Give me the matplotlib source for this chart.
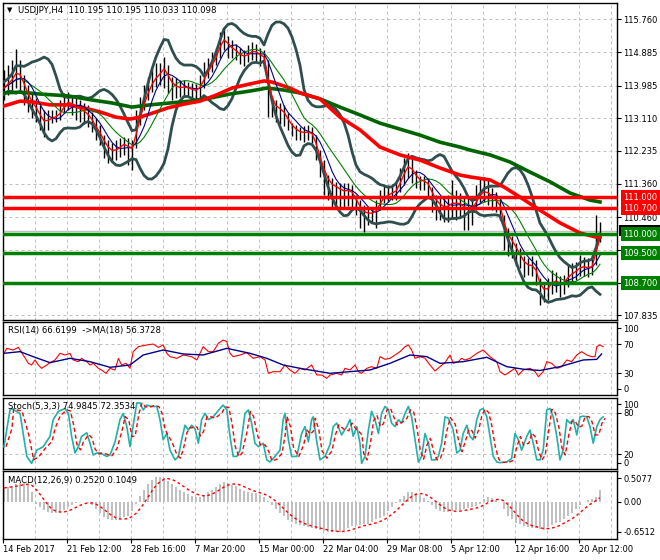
import numpy as np
import pandas as pd
import matplotlib
matplotlib.use("Agg")
import matplotlib.pyplot as plt
from matplotlib.transforms import blended_transform_factory
from matplotlib.patches import Rectangle

plt.rcParams['font.family'] = ['DejaVu Sans']

# ---------------- data (each entry = one 2-bar group of the H4 chart) ----------------
close = [113.92, 114.08, 114.19, 114.40, 114.27, 113.92, 113.65, 113.44, 113.33, 113.12,
         112.96, 113.06, 113.14, 113.17, 113.28, 113.49, 113.60, 113.49, 113.39, 113.33,
         113.28, 113.17, 113.01, 112.80, 112.64, 112.42, 112.26, 112.21, 112.26, 112.37,
         112.45, 112.34, 112.26, 112.85, 113.33, 113.65, 113.92, 114.14, 114.27, 114.35,
         114.51, 114.19, 113.98, 113.92, 113.92, 113.95, 113.92, 113.87, 113.84, 113.98,
         114.24, 114.46, 114.62, 114.83, 115.15, 115.31, 115.07, 114.94, 114.89, 114.78,
         114.75, 114.83, 114.94, 114.89, 114.78, 114.72, 113.87, 113.44, 113.33, 113.33,
         113.23, 113.01, 112.85, 112.77, 112.72, 112.72, 112.74, 112.69, 112.31, 111.91,
         111.59, 111.38, 111.27, 111.25, 111.19, 111.14, 111.19, 111.11, 110.87, 110.65,
         110.55, 110.55, 110.57, 110.65, 110.92, 111.06, 111.08, 111.14, 111.19, 111.46,
         111.73, 111.91, 111.73, 111.51, 111.41, 111.41, 111.33, 111.03, 110.82, 110.76,
         110.71, 110.76, 110.87, 110.84, 110.82, 110.71, 110.65, 110.71, 110.92, 111.14,
         111.19, 111.11, 110.98, 110.87, 110.71, 110.12, 109.85, 109.75, 109.58, 109.37,
         109.18, 109.15, 109.15, 108.99, 108.51, 108.46, 108.56, 108.78, 108.78, 108.67,
         108.72, 108.91, 108.99, 109.05, 109.15, 109.15, 109.10, 109.15, 109.72, 110.10]

high = [114.40, 114.54, 114.67, 114.97, 114.67, 114.27, 114.00, 113.79, 113.65, 113.47,
        113.33, 113.33, 113.33, 113.33, 113.60, 113.79, 113.81, 113.73, 113.68, 113.60,
        113.52, 113.47, 113.28, 113.12, 112.93, 112.66, 112.53, 112.45, 112.53, 112.58,
        112.61, 112.58, 112.53, 113.33, 113.68, 114.00, 114.22, 114.46, 114.59, 114.59,
        114.75, 114.54, 114.22, 114.19, 114.14, 114.14, 114.08, 114.06, 114.03, 114.27,
        114.62, 114.72, 114.89, 114.99, 115.42, 115.53, 115.31, 115.21, 115.10, 114.99,
        114.94, 115.07, 115.15, 115.10, 114.99, 114.94, 114.67, 113.71, 113.60, 113.52,
        113.47, 113.25, 112.98, 112.93, 112.88, 112.90, 112.93, 112.88, 112.66, 112.26,
        111.99, 111.59, 111.51, 111.41, 111.38, 111.38, 111.38, 111.33, 111.06, 110.92,
        110.79, 110.74, 110.74, 110.92, 111.19, 111.30, 111.33, 111.35, 111.41, 111.78,
        112.05, 112.18, 112.05, 111.73, 111.57, 111.57, 111.51, 111.27, 111.06, 111.00,
        110.98, 111.06, 111.46, 111.19, 111.11, 111.00, 110.98, 111.03, 111.33, 111.51,
        111.54, 111.46, 111.25, 111.14, 110.98, 110.52, 110.17, 109.96, 109.77, 109.64,
        109.42, 109.37, 109.42, 109.31, 108.83, 108.72, 108.83, 109.05, 108.99, 108.89,
        108.91, 109.18, 109.23, 109.26, 109.45, 109.39, 109.37, 109.42, 110.52, 110.33]

low = [113.60, 113.73, 113.81, 113.92, 113.81, 113.47, 113.28, 113.12, 113.01, 112.80,
       112.61, 112.80, 112.98, 113.01, 113.06, 113.25, 113.33, 113.20, 113.06, 113.01,
       112.96, 112.88, 112.74, 112.53, 112.39, 112.05, 111.91, 111.94, 111.99, 112.07,
       112.13, 111.86, 111.73, 112.31, 112.93, 113.33, 113.60, 113.81, 113.95, 114.00,
       113.92, 113.79, 113.60, 113.65, 113.68, 113.68, 113.71, 113.60, 113.60, 113.65,
       113.92, 114.19, 114.35, 114.54, 114.72, 114.94, 114.72, 114.72, 114.67, 114.56,
       114.51, 114.62, 114.67, 114.62, 114.51, 114.46, 113.14, 113.14, 113.01, 112.96,
       112.90, 112.80, 112.64, 112.53, 112.53, 112.47, 112.53, 112.45, 111.99, 111.54,
       111.06, 110.92, 110.74, 110.79, 110.71, 110.71, 110.76, 110.71, 110.52, 110.17,
       110.07, 110.25, 110.33, 110.17, 110.65, 110.84, 110.87, 110.92, 110.92, 111.14,
       111.33, 111.51, 111.38, 111.25, 111.19, 111.19, 111.00, 110.60, 110.39, 110.39,
       110.33, 110.33, 110.44, 110.39, 110.47, 110.12, 110.12, 110.25, 110.65, 110.87,
       110.87, 110.79, 110.65, 110.60, 110.39, 109.58, 109.42, 109.37, 109.21, 109.10,
       108.86, 108.91, 108.89, 108.64, 108.11, 108.19, 108.24, 108.40, 108.46, 108.32,
       108.40, 108.59, 108.72, 108.78, 108.89, 108.89, 108.86, 108.91, 109.18, 109.80]

# long moving averages (group index, price)
slow_red_idx = [0, 4, 7, 11.5, 16, 20, 24, 28, 31.5, 34, 38, 41, 45, 49, 53, 57, 61.5, 65, 67,
                71.5, 74, 79, 84, 89, 94, 99, 104, 109, 114, 116.5, 121.5, 125, 129, 134,
                139, 144, 148, 149]
slow_red_val = [113.44, 113.57, 113.55, 113.47, 113.47, 113.39, 113.28, 113.14, 113.09, 113.14,
                113.28, 113.39, 113.49, 113.57, 113.73, 113.92, 114.03, 114.11, 114.08, 113.92,
                113.79, 113.63, 113.14, 112.80, 112.34, 112.13, 111.99, 111.78, 111.59, 111.54,
                111.46, 111.27, 111.00, 110.65, 110.31, 110.04, 109.93, 109.93]
slow_green_idx = [0, 4, 9, 16, 22, 27, 32, 36.5, 41.5, 46.5, 51.5, 56.5, 61.5, 65.75, 69.75, 74,
                  79, 84, 89, 94, 99, 104, 109, 114, 116.5, 121.5, 126.5, 131.5, 136.5, 141.5,
                  146.5, 149]
slow_green_val = [113.79, 113.81, 113.76, 113.71, 113.60, 113.52, 113.41, 113.47, 113.52, 113.57,
                  113.65, 113.76, 113.84, 113.92, 113.87, 113.79, 113.63, 113.41, 113.20, 112.98,
                  112.82, 112.66, 112.47, 112.34, 112.26, 112.13, 111.94, 111.67, 111.41, 111.11,
                  110.92, 110.87]

# RSI(14) samples (group index, value) and its MA(18)
rsi_idx = [0, 0.7, 2.3, 3.6, 4.8, 6.1, 6.9, 7.75, 8.6, 9.4, 10.7, 11.5, 12.75, 14, 15.25, 16.5,
           17.3, 18.6, 19.4, 20.7, 21.5, 22.3, 23.6, 24.4, 25.5, 26.5, 27.75, 28.6, 29.4, 30.5,
           31.5, 32.3, 33.6, 35.7, 37.3, 38.6, 39.8, 40.7, 41.5, 43.2, 44.8, 46.9, 48.2, 49,
           49.8, 51.1, 52.3, 53.6, 54.8, 55.7, 56.5, 57.3, 59, 60.7, 62.3, 64, 65.25, 66.1,
           67.3, 69, 70.25, 71.5, 72.75, 74, 75.25, 76.9, 78.2, 79.4, 80.7, 81.5, 83.2, 84.4,
           85.25, 86.5, 87.75, 88.6, 89.4, 90.7, 91.9, 93.2, 94, 95.25, 96.5, 97.75, 99, 100.25,
           101.1, 101.9, 102.75, 104, 105.25, 106.5, 107.75, 109, 110.25, 111.5, 112.3, 113.6,
           114.4, 115.25, 116.5, 118.2, 119.8, 121.5, 123.2, 124, 125.25, 126.5, 127.75, 128.6,
           129.8, 131.5, 132.75, 133.6, 134.8, 135.7, 136.9, 138.2, 139.4, 140.7, 141.9, 143.2,
           144.4, 145.7, 146.9, 147.75, 148.2, 149, 149.8]
rsi_val = [57.5, 64.4, 62.1, 65.7, 55.2, 43.7, 41.4, 48.3, 41.4, 36.8, 41.4, 44.6, 48.3, 57.5,
           55.2, 57.5, 48.3, 46.0, 50.6, 46.0, 41.4, 43.7, 36.8, 34.5, 29.9, 36.8, 34.5, 50.6,
           41.4, 43.7, 36.8, 59.8, 66.7, 69.0, 70.3, 65.7, 69.0, 57.5, 52.9, 50.6, 55.2, 52.9,
           48.3, 57.5, 66.7, 59.8, 59.8, 71.3, 75.9, 73.6, 57.5, 52.9, 55.2, 58.4, 50.6, 52.9,
           48.3, 29.9, 32.2, 32.2, 41.4, 34.5, 29.9, 36.8, 34.5, 41.4, 27.6, 27.6, 23.0, 27.6,
           29.9, 27.6, 36.8, 34.5, 41.4, 32.2, 29.9, 36.8, 39.1, 36.8, 52.9, 49.2, 50.6, 55.2,
           59.8, 66.7, 69.0, 62.1, 50.6, 52.9, 50.6, 41.4, 33.1, 39.1, 44.6, 55.2, 43.7, 46.0,
           50.6, 48.3, 50.6, 57.5, 62.1, 52.9, 46.0, 32.2, 27.6, 32.2, 36.8, 27.6, 34.5, 36.8,
           32.2, 25.3, 32.2, 46.0, 43.7, 36.8, 39.1, 48.3, 46.0, 55.2, 59.8, 55.2, 52.9, 52.9,
           66.7, 69.0, 66.7]
rsi_ma_idx = [0, 4, 7.3, 11.5, 16.5, 21.5, 26.5, 31.5, 34.8, 39.8, 44.8, 49.8, 55.7, 61.5, 65.7,
              69.8, 74, 79, 81.5, 86.5, 91.5, 96.5, 101.5, 105.7, 109, 114.8, 120.7, 125.7, 129.8,
              134, 139, 144.8, 148.2, 149.4]
rsi_ma_val = [57.5, 59.8, 52.9, 44.6, 50.6, 46.0, 38.2, 41.4, 55.2, 62.1, 56.6, 55.2, 64.4, 57.5,
              50.6, 41.4, 36.8, 32.2, 29.9, 32.2, 34.5, 43.7, 55.2, 52.9, 43.7, 46.0, 52.0, 39.1,
              35.6, 33.8, 39.1, 48.3, 49.2, 56.6]

# Stochastic %K(5,3,3) samples (group index, value)
stoch_idx = [0, 1.5, 1.9, 4, 5.7, 6.9, 8.2, 9.8, 11.5, 12.3, 13.6, 15.25, 16.1, 16.9, 17.75,
             18.6, 19.4, 20.7, 21.5, 22.3, 23.2, 24, 25.7, 26.5, 27.75, 29, 29.8, 30.7, 31.5,
             32.3, 33.2, 34, 34.8, 35.7, 36.9, 38.2, 39, 39.8, 40.7, 41.5, 42.75, 43.6, 44.4,
             45.25, 46.1, 46.9, 47.75, 48.6, 49.4, 50.25, 51.1, 52.3, 54, 54.8, 55.7, 56.5,
             57.3, 58.2, 59, 60.25, 61.1, 61.9, 62.75, 63.6, 64.8, 65.7, 66.5, 67.75, 69, 69.8,
             70.25, 71.1, 71.9, 73.2, 74.4, 75.25, 76.1, 76.9, 77.3, 78.2, 79, 80.25, 81.5,
             82.3, 83.2, 84.4, 85.7, 86.5, 87.3, 88.2, 89, 89.4, 90.25, 91.1, 91.9, 92.75, 93.6,
             94.4, 95.25, 96.1, 96.9, 97.75, 98.6, 99.4, 100.25, 101.1, 101.9, 102.75, 103.6,
             104.4, 105.25, 106.1, 106.9, 107.75, 108.6, 109.4, 110.25, 111.1, 112.3, 113.2,
             114, 114.8, 115.7, 116.5, 117.3, 118.2, 119, 119.8, 120.7, 121.5, 122.3, 123.2,
             124, 125.7, 126.9, 127.75, 128.6, 129.4, 130.7, 131.5, 132.3, 133.2, 134, 134.8,
             135.7, 136.5, 137.3, 138.2, 139, 139.8, 140.7, 141.5, 142.3, 143.2, 144, 144.8,
             145.7, 146.5, 147.3, 148.2, 149, 149.8]
stoch_val = [31, 84, 86, 79, 17, 7, 26, 31, 46, 70, 82, 86, 79, 46, 22, 31, 46, 51, 36, 19, 22,
             22, 17, 19, 38, 70, 79, 60, 31, 62, 94, 94, 84, 91, 89, 89, 70, 41, 50, 26, 12, 17,
             41, 62, 55, 62, 57, 36, 70, 79, 70, 74, 86, 91, 84, 46, 17, 17, 26, 79, 84, 65, 36,
             31, 36, 12, 9, 17, 26, 70, 79, 41, 17, 17, 50, 60, 38, 70, 74, 38, 12, 17, 34, 60,
             65, 48, 60, 70, 46, 60, 36, 7, 17, 55, 82, 70, 50, 79, 89, 84, 65, 60, 70, 65, 79,
             89, 74, 41, 9, 17, 50, 36, 12, 12, 17, 36, 74, 72, 55, 22, 26, 50, 62, 46, 41, 70,
             84, 86, 74, 46, 17, 9, 8, 9, 14, 50, 41, 26, 46, 55, 36, 12, 12, 26, 84, 86, 74, 46,
             12, 26, 70, 65, 70, 48, 74, 75, 74, 60, 36, 60, 70, 74]

# MACD(12,26,9) main value per 2-bar group
macd_val = [0.30, 0.32, 0.35, 0.38, 0.40, 0.40, 0.36, 0.22, -0.05, -0.12,
            -0.18, -0.22, -0.25, -0.25, -0.22, -0.17, -0.12, -0.07, -0.03, -0.01,
            0.00, -0.02, -0.08, -0.16, -0.25, -0.33, -0.37, -0.40, -0.40, -0.38,
            -0.34, -0.30, -0.20, -0.05, 0.12, 0.25, 0.38, 0.47, 0.53, 0.54,
            0.51, 0.45, 0.38, 0.32, 0.26, 0.21, 0.16, 0.12, 0.10, 0.11,
            0.15, 0.20, 0.26, 0.32, 0.38, 0.43, 0.41, 0.37, 0.33, 0.28,
            0.24, 0.21, 0.19, 0.18, 0.15, 0.10, 0.02, -0.08, -0.16, -0.24,
            -0.32, -0.39, -0.44, -0.48, -0.51, -0.53, -0.55, -0.57, -0.59, -0.62,
            -0.64, -0.65, -0.65, -0.65, -0.65, -0.63, -0.57, -0.53, -0.51, -0.50,
            -0.49, -0.48, -0.45, -0.38, -0.35, -0.30, -0.20, -0.12, -0.02, 0.06,
            0.13, 0.20, 0.22, 0.19, 0.14, 0.09, 0.01, -0.08, -0.16, -0.20,
            -0.22, -0.22, -0.21, -0.19, -0.18, -0.16, -0.14, -0.12, -0.09, -0.06,
            0.05, 0.11, 0.08, 0.04, 0.00, -0.15, -0.30, -0.38, -0.46, -0.49,
            -0.52, -0.55, -0.57, -0.58, -0.60, -0.62, -0.55, -0.50, -0.47, -0.43,
            -0.38, -0.32, -0.25, -0.16, -0.07, -0.01, 0.04, 0.06, 0.10, 0.25]

red_levels = [111.000, 110.700]
green_levels = [110.000, 109.500, 108.700]
last_price = 110.098

header_text = "USDJPY,H4  110.195 110.195 110.033 110.098"
rsi_title = "RSI(14) 66.6199  ->MA(18) 56.3728"
stoch_title = "Stoch(5,3,3) 74.9845 72.3534"
macd_title = "MACD(12,26,9) 0.2520 0.1049"

price_ticks = [115.760, 114.885, 113.985, 113.110, 112.235, 111.360, 110.460, 109.585, 108.710, 107.835]
price_tick_labels = ["115.760", "114.885", "113.985", "113.110", "112.235", "111.360", "110.460",
                     "", "", "107.835"]
rsi_ticks, rsi_labels = [92.4, 70, 30, 8.7], ["100", "70", "30", "0"]
stoch_ticks, stoch_labels = [92.2, 80, 20, 7.9], ["100", "80", "20", "0"]
macd_ticks, macd_labels = [0.5077, 0.0, -0.6512], ["0.5077", "0.00", "-0.6512"]

date_labels = ["14 Feb 2017", "21 Feb 12:00", "28 Feb 16:00", "7 Mar 20:00", "15 Mar 00:00",
               "22 Mar 04:00", "29 Mar 08:00", "5 Apr 12:00", "12 Apr 16:00", "20 Apr 12:00"]

# ---------------- derived series ----------------
n = len(close)
idx = np.arange(n)
c = pd.Series(close)

ma_fast = c.ewm(span=2, adjust=False).mean()
ma_mid = c.rolling(5, min_periods=1).mean()
ma_bb = c.rolling(10, min_periods=1).mean()
sd = c.rolling(10, min_periods=2).std(ddof=0).bfill()
bb_up = ma_bb + 2.1 * sd
bb_dn = ma_bb - 2.1 * sd

stoch_k = pd.Series(stoch_val, dtype=float)
stoch_d = stoch_k.rolling(2, min_periods=1).mean()

macd = pd.Series(macd_val)
macd_sig = macd.rolling(5, min_periods=1).mean()

# ---------------- figure ----------------
W, H = 660, 560
fig = plt.figure(figsize=(W / 100, H / 100), dpi=100)
fig.patch.set_facecolor('white')


def add_ax(top, bottom):
    return fig.add_axes([3 / W, 1 - bottom / H, 614 / W, (bottom - top) / H])


ax = add_ax(3, 319.5)
ax_rsi = add_ax(322, 395)
ax_st = add_ax(397.5, 468.5)
ax_m = add_ax(471, 539)

xmin, xmax = -0.25, 153.25
grid_x = [-0.25 + 8 * j for j in range(1, 20)]
label_x = [-0.25 + 16 * j for j in range(len(date_labels))]
gkw = dict(color='#C0C0C0', lw=0.72, linestyle=(0, (3, 3)), zorder=0)

for a in (ax, ax_rsi, ax_st, ax_m):
    a.set_xlim(xmin, xmax)
    for s in a.spines.values():
        s.set_linewidth(1.0)
        s.set_color('black')
    for gx in grid_x:
        a.axvline(gx, **gkw)
    a.tick_params(axis='y', left=False, labelleft=False, right=True, labelright=True,
                  labelsize=6, length=3, width=0.8, pad=1.5)
    a.tick_params(axis='x', bottom=False, labelbottom=False)

# main panel
ax.set_ylim(107.723, 116.197)
for p in price_ticks:
    ax.axhline(p, **gkw)
ax.set_yticks(price_ticks)
ax.set_yticklabels(price_tick_labels)

ax.vlines(idx, low, high, color='black', lw=1.0, zorder=2)
ax.plot(idx, bb_up, color='#2F4F4F', lw=2.0, zorder=3)
ax.plot(idx, bb_dn, color='#2F4F4F', lw=2.0, zorder=3)
ax.plot(slow_green_idx, slow_green_val, color='#006400', lw=2.6, zorder=4)
ax.plot(slow_red_idx, slow_red_val, color='#FF0000', lw=2.6, zorder=4)
ax.plot(idx, ma_bb, color='#008000', lw=0.8, zorder=4)
ax.plot(idx, ma_mid, color='#00008B', lw=0.8, zorder=4)
ax.plot(idx, ma_fast, color='#FF0000', lw=1.0, zorder=4)

ax.axhline(last_price, color='#C0C0C0', lw=1.0, zorder=1)
for p in red_levels:
    ax.axhline(p, color='#FF0000', lw=2.5, zorder=5)
for p in green_levels:
    ax.axhline(p, color='#008000', lw=2.5, zorder=5)

tr = blended_transform_factory(ax.transAxes, ax.transData)
xlab = 1 + 6 / 614
# current-price marker box, mostly hidden behind the 110.000 label
fig.canvas.draw()
ybox = ax.transData.transform((0, last_price))[1]
ax.add_patch(Rectangle((619 / W, (ybox - 5.5) / H), 41 / W, 11 / H,
                       transform=fig.transFigure, facecolor='black', edgecolor='none',
                       zorder=6, clip_on=False))
for p in red_levels:
    ax.text(xlab, p, "%.3f" % p, transform=tr, ha='left', va='center', fontsize=6, color='white',
            clip_on=False, zorder=7, bbox=dict(boxstyle='square,pad=0.3', fc='#FF0000', ec='none'))
for p in green_levels:
    ax.text(xlab, p, "%.3f" % p, transform=tr, ha='left', va='center', fontsize=6, color='white',
            clip_on=False, zorder=7, bbox=dict(boxstyle='square,pad=0.3', fc='#008000', ec='none'))

# RSI panel
ax_rsi.set_ylim(0, 100.7)
for v in (70, 30):
    ax_rsi.axhline(v, **gkw)
ax_rsi.plot(rsi_idx, rsi_val, color='#FF0000', lw=0.8, zorder=3)
ax_rsi.plot(rsi_ma_idx, rsi_ma_val, color='#00008B', lw=1.0, zorder=4)
ax_rsi.set_yticks(rsi_ticks)
ax_rsi.set_yticklabels(rsi_labels)

# Stochastic panel
ax_st.set_ylim(-0.4, 101.9)
for v in (80, 20):
    ax_st.axhline(v, **gkw)
ax_st.plot(stoch_idx, stoch_k, color='#20B2AA', lw=1.2, zorder=3)
ax_st.plot(np.array(stoch_idx) + 0.5, stoch_d, color='#FF0000', lw=1.0,
           linestyle=(0, (3, 2)), zorder=4)
ax_st.set_yticks(stoch_ticks)
ax_st.set_yticklabels(stoch_labels)

# MACD panel
ax_m.set_ylim(-0.809, 0.666)
ax_m.bar(idx, macd, width=0.5, color='#C0C0C0', zorder=2)
ax_m.plot(idx, macd_sig, color='#FF0000', lw=1.0, linestyle=(0, (2, 2)), zorder=3)
ax_m.set_yticks(macd_ticks)
ax_m.set_yticklabels(macd_labels)
ax_m.tick_params(axis='x', bottom=True, labelbottom=True, labelsize=6, length=3, width=0.8, pad=1.5)
ax_m.set_xticks(label_x)
ax_m.set_xticklabels(date_labels)
for t in ax_m.get_xticklabels():
    t.set_ha('left')

# titles
fig.text(7 / W, 1 - 10.5 / H, "\u25BC", fontsize=5, ha='left', va='center', color='black')
fig.text(18 / W, 1 - 10.5 / H, header_text, fontsize=6.1, ha='left', va='center', color='black')
fig.text(7.5 / W, 1 - 330.7 / H, rsi_title, fontsize=6.1, ha='left', va='center', color='black')
fig.text(7.5 / W, 1 - 407 / H, stoch_title, fontsize=6.1, ha='left', va='center', color='black')
fig.text(7.5 / W, 1 - 480.7 / H, macd_title, fontsize=6.1, ha='left', va='center', color='black')

fig.savefig("out.png", dpi=100, facecolor='white')
